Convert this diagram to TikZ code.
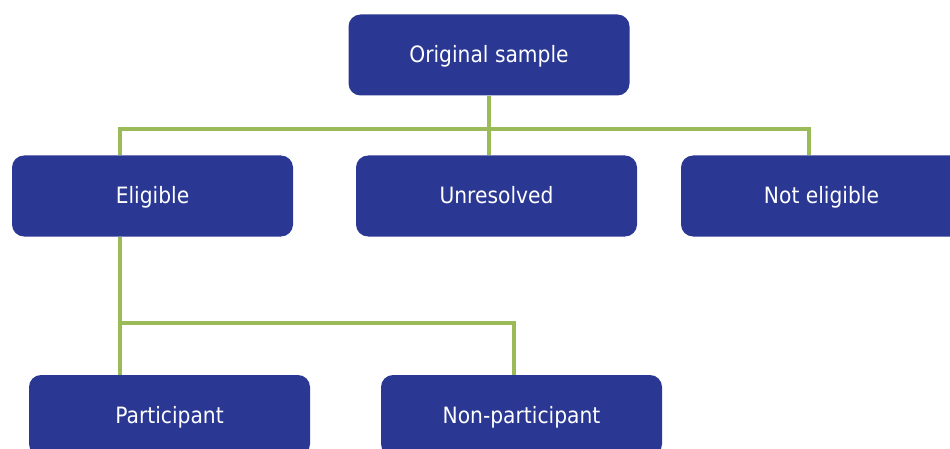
\documentclass[tikz,border=0pt]{standalone}
\usepackage{fontspec}
\setmainfont{DejaVu Sans}[FakeStretch=0.9]
\definecolor{boxblue}{RGB}{42,56,148}
\definecolor{linkgreen}{RGB}{155,187,89}
\tikzset{
  unitbox/.style={fill=boxblue, rounded corners=12pt, minimum width=281pt,
    minimum height=81pt, inner sep=0pt, text=white, text height=19pt,
    text depth=3pt, font=\fontsize{22.5}{26}\selectfont},
  link/.style={draw=linkgreen, line width=3.2pt}
}
\begin{document}
\begin{tikzpicture}[x=1pt,y=-1pt]
  \useasboundingbox (0,0) rectangle (950,449);
  \clip (0,0) rectangle (950,449);

  % Boxes
  \node [unitbox] (orig) at (489,55) {Original sample};
  \node [unitbox] (elig) at (152.5,196) {Eligible};
  \node [unitbox] (unres) at (496.5,196) {Unresolved};
  \node [unitbox] (notel) at (821.5,196) {Not eligible};
  \node [unitbox] (part) at (169.5,415.5) {Participant};
  \node [unitbox] (nonpart) at (521.5,415.5) {Non-participant};

  % Junctions of the green lines
  \coordinate (busl) at (120,129);
  \coordinate (busr) at (809,129);
  \coordinate (lowl) at (120,323);
  \coordinate (lowr) at (514,323);

  % Drawing links below original sample
  \draw [link] (orig.south) -- (orig.south |- unres.north);
  \draw [link] (busl |- elig.north) -- (busl) -- (busr) -- (busr |- notel.north);

  % Drawing links below eligible
  \draw [link] (lowl |- elig.south) -- (lowl |- part.north);
  \draw [link] (lowl) -- (lowr) -- (lowr |- nonpart.north);
\end{tikzpicture}
\end{document}
